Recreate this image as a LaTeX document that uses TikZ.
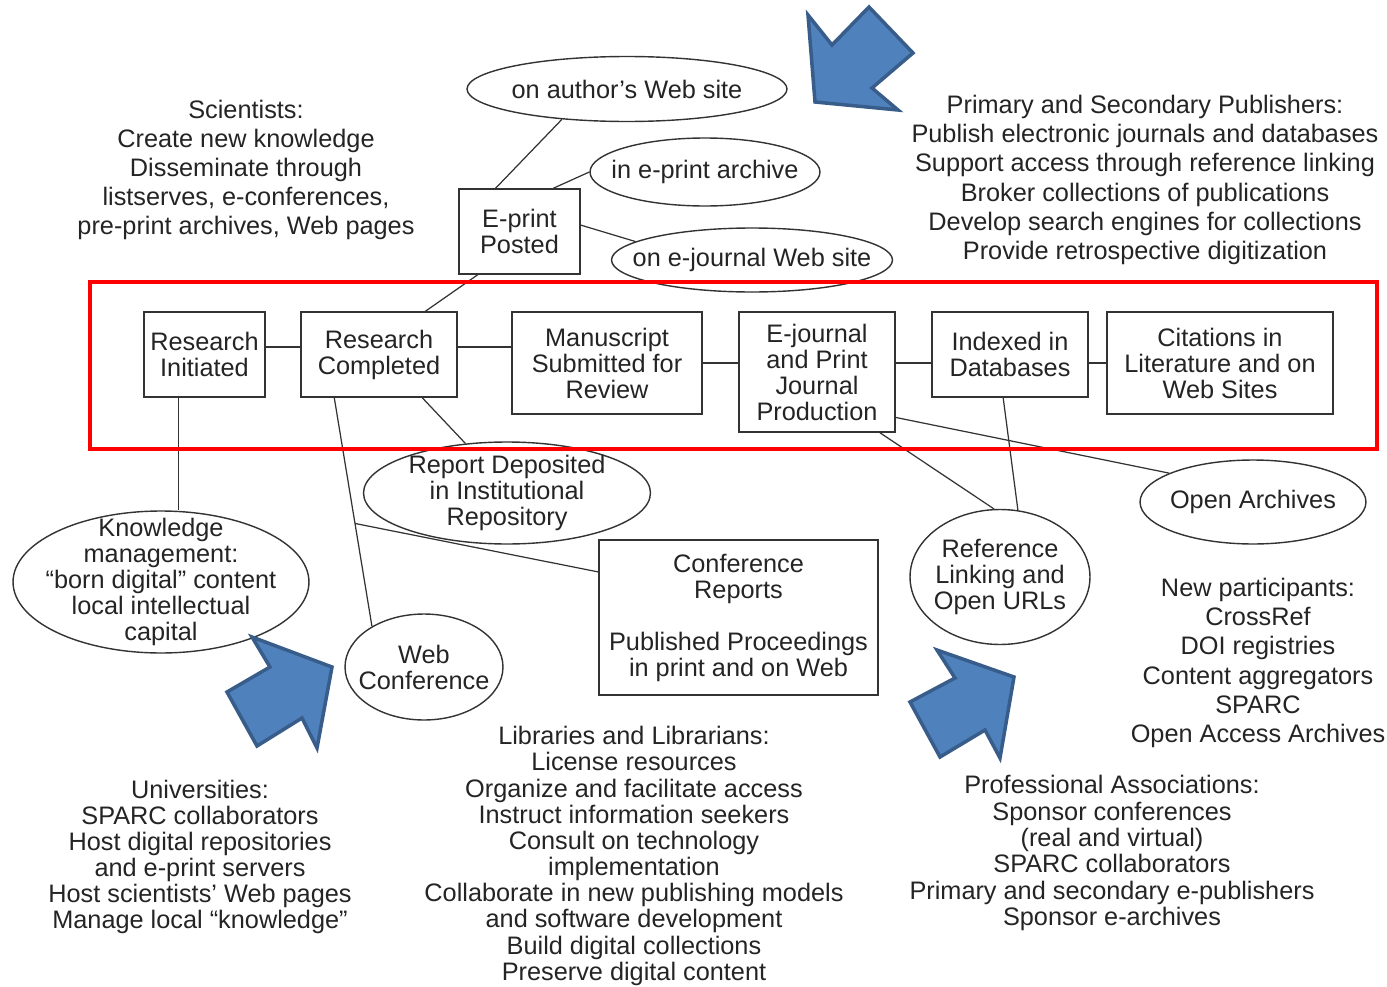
\documentclass[tikz,border=0pt]{standalone}
\usepackage{fontspec}
\setmainfont{Liberation Sans}
\usetikzlibrary{shapes.geometric}
\definecolor{linegray}{HTML}{333333}
\definecolor{textgray}{HTML}{242424}
\definecolor{arrowblue}{HTML}{4F81BD}
\definecolor{arrowedge}{HTML}{385D8A}
\tikzset{
    box/.style={draw=linegray,line width=0.8pt,inner sep=0pt,align=center,
        font=\fontsize{14.4}{14.8}\selectfont},
    oval/.style={ellipse,draw=linegray,line width=0.8pt,inner sep=-3em,align=center,
        font=\fontsize{14.4}{14.8}\selectfont},
    note/.style={inner sep=0pt,align=center,font=\fontsize{14.4}{#1}\selectfont},
    note/.default=14.8pt,
    link/.style={draw=linegray,line width=0.7pt},
    bigarrow/.style={fill=arrowblue,draw=arrowedge,line width=2pt,line join=miter},
    frame/.style={draw=red,line width=2.3pt}
}

\begin{document}
\begin{tikzpicture}[x=0.02cm,y=-0.02cm,text=textgray]
    \useasboundingbox (0,0) rectangle (1387,987);

    % Main line of the publication process
    \node[box,minimum width=2.42cm,minimum height=1.70cm] (ri) at (204.5,354.5) {Research\\Initiated};
    \node[box,minimum width=3.12cm,minimum height=1.70cm] (rc) at (379,354.5) {Research\\Completed};
    \node[box,minimum width=3.80cm,minimum height=2.04cm] (ms) at (607,363) {Manuscript\\Submitted for\\Review};
    \node[box,minimum width=3.12cm,minimum height=2.40cm] (ej) at (817,372) {E-journal\\and Print\\Journal\\Production};
    \node[box,minimum width=3.12cm,minimum height=1.70cm] (ix) at (1010,354.5) {Indexed in\\Databases};
    \node[box,minimum width=4.52cm,minimum height=2.04cm] (ct) at (1220,363) {Citations in\\Literature and on\\Web Sites};

    % E-print and where it is posted
    \node[box,minimum width=2.42cm,minimum height=1.70cm] (ep) at (519.5,231.5) {E-print\\Posted};
    \node[oval,minimum width=6.40cm,minimum height=1.30cm] (auth) at (627,89) {on author’s Web site};
    \node[oval,minimum width=4.60cm,minimum height=1.36cm] (epa) at (705,172) {in e-print archive};
    \node[oval,minimum width=5.62cm,minimum height=1.28cm] (ejw) at (752,260) {on e-journal Web site};

    % Other outlets
    \node[oval,minimum width=5.74cm,minimum height=2.04cm] (repo) at (507,493) {Report Deposited\\in Institutional\\Repository};
    \node[oval,minimum width=5.92cm,minimum height=2.84cm] (km) at (161,582) {Knowledge\\management:\\“born digital” content\\local intellectual\\capital};
    \node[oval,minimum width=3.16cm,minimum height=2.12cm] (wc) at (424,667) {Web\\Conference};
    \node[box,minimum width=5.58cm,minimum height=3.10cm] (cr) at (738.5,617.5) {Conference\\Reports\\[14.8pt]Published Proceedings\\in print and on Web};
    \node[oval,minimum width=3.60cm,minimum height=2.70cm] (rl) at (1000,577) {Reference\\Linking and\\Open URLs};
    \node[oval,minimum width=4.52cm,minimum height=1.68cm] (oa) at (1253,502) {Open Archives};

    % Connectors
    \draw[link] ([yshift=0.15cm]ri.east) -- ([yshift=0.15cm]rc.west);
    \draw[link] ([yshift=0.15cm]rc.east) -- ([yshift=0.15cm]rc.east -| ms.west);
    \draw[link] (ms.east) -- (ms.east -| ej.west);
    \draw[link] (ms.east -| ej.east) -- (ms.east -| ix.west);
    \draw[link] (ms.east -| ix.east) -- (ct.west);
    \draw[link] (ep.119) -- (auth.205);
    \draw[link] (ep.52) -- (epa.180);
    \draw[link] (ep.6) -- (ejw.171);
    \draw[link] (ep.226) -- (rc.43);
    \draw[link] (rc.-45) -- (repo.130);
    \draw[link] (ri.239) -- (ri.239 |- km.north);
    \draw[link] (rc.224) -- coordinate[pos=0.55] (br) (wc.142);
    \draw[link] (br) -- (cr.162);
    \draw[link] (ej.-30) -- (oa.161);
    \draw[link] (ej.-44) -- (rl.95);
    \draw[link] (ix.261) -- (rl.75);

    % Who takes part
    \node[note=16.5pt] (sci) at (246,170) {Scientists:\\Create new knowledge\\Disseminate through\\listserves, e-conferences,\\pre-print archives, Web pages};
    \node[note=16.6pt] (pub) at (1145,180) {Primary and Secondary Publishers:\\Publish electronic journals and databases\\Support access through reference linking\\Broker collections of publications\\Develop search engines for collections\\Provide retrospective digitization};
    \node[note=16.6pt] (newp) at (1258,663) {New participants:\\CrossRef\\DOI registries\\Content aggregators\\SPARC\\Open Access Archives};
    \node[note] (uni) at (200,857) {Universities:\\SPARC collaborators\\Host digital repositories\\and e-print servers\\Host scientists’ Web pages\\Manage local “knowledge”};
    \node[note=14.9pt] (lib) at (634,856) {Libraries and Librarians:\\License resources\\Organize and facilitate access\\Instruct information seekers\\Consult on technology\\implementation\\Collaborate in new publishing models\\and software development\\Build digital collections\\Preserve digital content};
    \node[note=15pt] (prof) at (1112,853) {Professional Associations:\\Sponsor conferences\\(real and virtual)\\SPARC collaborators\\Primary and secondary e-publishers\\Sponsor e-archives};

    % Highlight and pointers
    \draw[frame] (90,282) rectangle (1377,449);
    \draw[bigarrow] (808,15) -- (832,45) -- (869,7) -- (913,53) -- (872,88) -- (898,110) -- (815,102) -- cycle;
    \draw[bigarrow] (252,637) -- (270,667) -- (227,692) -- (257,746) -- (302,718) -- (317,748) -- (332,667) -- cycle;
    \draw[bigarrow] (937,650) -- (955,678) -- (910,702) -- (940,757) -- (985,730) -- (1000,758) -- (1014,677) -- cycle;
\end{tikzpicture}
\end{document}
